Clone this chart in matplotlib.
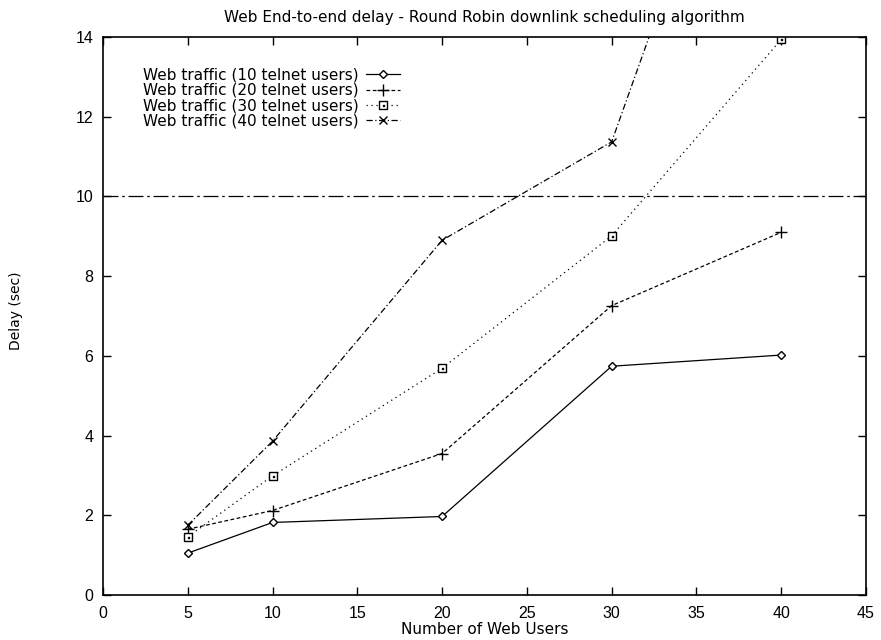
import matplotlib
matplotlib.use("Agg")
import matplotlib.pyplot as plt
from matplotlib.ticker import MultipleLocator
from matplotlib.path import Path

plt.rcParams['font.family'] = ['DejaVu Sans']

users = [5, 10, 20, 30, 40]
delay_10_telnet = [1.05, 1.82, 1.97, 5.74, 6.02]
delay_20_telnet = [1.65, 2.12, 3.55, 7.26, 9.10]
delay_30_telnet = [1.46, 2.99, 5.69, 9.01, 13.94]
delay_40_telnet = [1.75, 3.86, 8.90, 11.37, 23.3]
series_labels = [
    "Web traffic (10 telnet users)",
    "Web traffic (20 telnet users)",
    "Web traffic (30 telnet users)",
    "Web traffic (40 telnet users)",
]
threshold = 10

# square marker with a small dot in its centre
def _square(h):
    return [(-h, -h), (h, -h), (h, h), (-h, h), (-h, -h)]
_codes = [Path.MOVETO, Path.LINETO, Path.LINETO, Path.LINETO, Path.CLOSEPOLY]
dotted_square = Path(_square(1.0) + _square(0.12), _codes + _codes)

fig = plt.figure(figsize=(8.81, 6.40), dpi=100)
ax = fig.add_axes([103/881, 45/640, 763/881, 558/640])

styles = [
    dict(linestyle='-', marker='D', markersize=4, markerfacecolor='white'),
    dict(linestyle=(0, (3, 2)), marker='+', markersize=8),
    dict(linestyle=(0, (1, 3)), marker=dotted_square, markersize=6, markerfacecolor='white'),
    dict(linestyle=(0, (5, 2, 1, 2)), marker='x', markersize=6),
]
handles = []
for vals, st in zip([delay_10_telnet, delay_20_telnet, delay_30_telnet, delay_40_telnet], styles):
    ln, = ax.plot(users, vals, color='black', linewidth=0.9, markeredgewidth=1.0, **st)
    handles.append(ln)

ax.axhline(threshold, color='black', linewidth=0.9, linestyle=(0, (12, 3, 2, 3)))

ax.set_xlim(0, 45)
ax.set_ylim(0, 14)
ax.xaxis.set_major_locator(MultipleLocator(5))
ax.yaxis.set_major_locator(MultipleLocator(2))
ax.tick_params(direction='in', top=True, right=True, length=6, width=1)
ax.tick_params(axis='x', pad=8)
ax.tick_params(axis='y', pad=7)
for lab in ax.get_xticklabels() + ax.get_yticklabels():
    lab.set_fontfamily('Liberation Sans')
    lab.set_fontsize(11.5)
for s in ax.spines.values():
    s.set_linewidth(1.2)

ax.set_title("Web End-to-end delay - Round Robin downlink scheduling algorithm",
             fontsize=11, pad=11)
ax.set_xlabel("Number of Web Users", fontsize=11, labelpad=1)
ax.set_ylabel("Delay (sec)", fontsize=10, labelpad=37.5)
ax.yaxis.label.set_y(0.509)

leg = ax.legend(handles, series_labels, loc='upper left', bbox_to_anchor=(0.044, 0.956),
                frameon=False, markerfirst=False, fontsize=11, handlelength=2.2,
                labelspacing=0.02, handletextpad=0.5, borderaxespad=0)

fig.savefig("out.png", dpi=100)
